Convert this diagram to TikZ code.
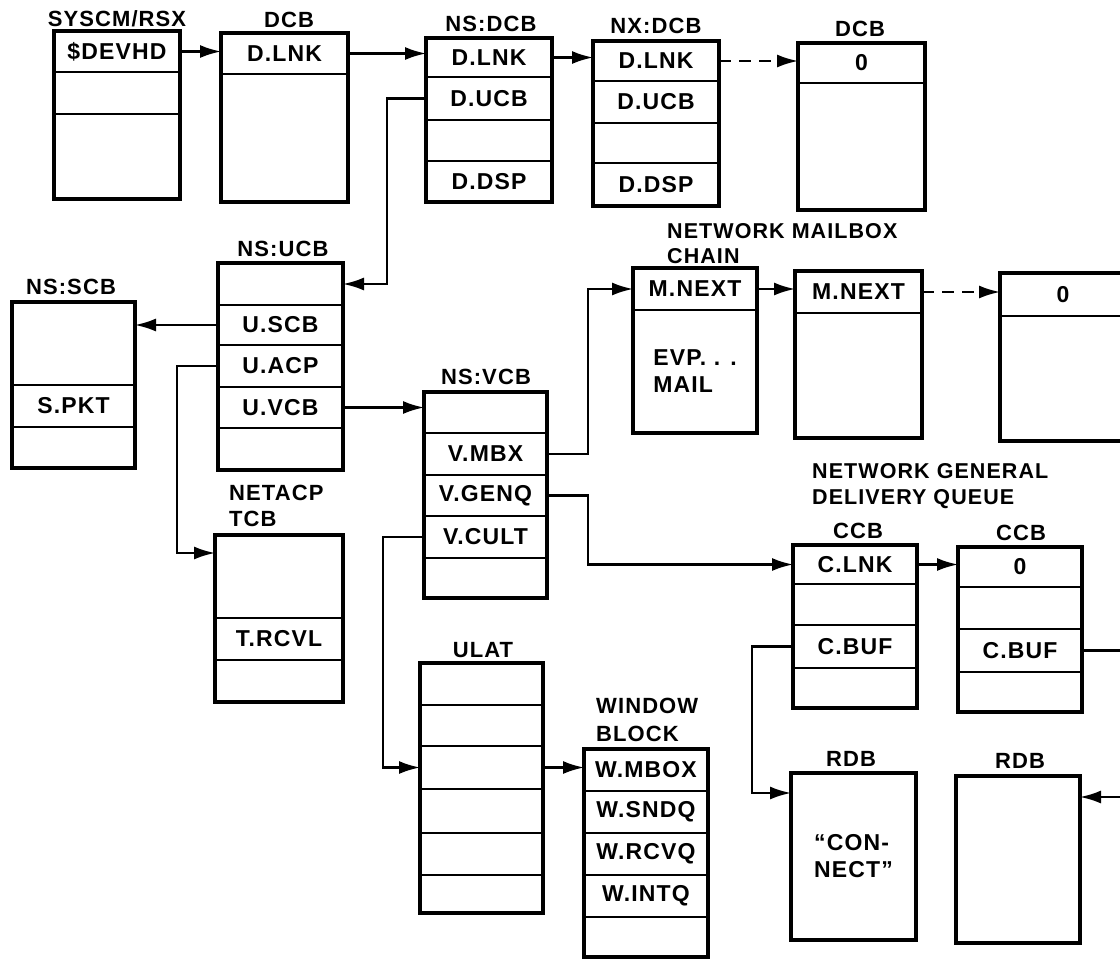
\documentclass[tikz,border=0pt]{standalone}
\usepackage{fontspec}
\setmainfont{Liberation Sans}[LetterSpace=5]
\usetikzlibrary{arrows.meta}
\newcommand\fld[6]{\node[fieldbox,minimum width={#3-#2},minimum height={#5-#4}] (#1) at ({(#2+#3)/2},{(#4+#5)/2}) {#6};}
\newcommand\frm[2]{\draw[frame] (#1.north west) rectangle (#2.south east);}
\tikzset{
  fieldbox/.style={draw, line width=2.5pt, inner sep=0pt, outer sep=0pt, align=left, font=\fontsize{23}{27}\selectfont\bfseries},
  frame/.style={line width=3.5pt, line join=miter},
  conn/.style={line width=2.2pt},
  arr/.style={conn, -{Latex[length=21pt,width=13pt]}},
  darr/.style={arr, dash pattern=on 12pt off 8pt},
  ttl/.style={inner sep=0pt, anchor=base, font=\fontsize{22}{26}\selectfont\bfseries},
  mttl/.style={inner sep=0pt, anchor=north west, align=left},
}
\begin{document}
\begin{tikzpicture}[x=1pt,y=-1pt]
\useasboundingbox (0,0) rectangle (1120,962);
\clip (0,0) rectangle (1120,962);
% SYSCM/RSX
\fld{devhd}{54}{180}{31}{72}{\$DEVHD}
\fld{sys2}{54}{180}{72}{114}{}
\fld{sys3}{54}{180}{114}{199}{}
\frm{devhd}{sys3}
\node[ttl] (lsys) at (117,26) {SYSCM/RSX};
% DCB
\fld{dlnk}{221}{348}{33}{74}{D.LNK}
\fld{dcbb}{221}{348}{74}{202}{}
\frm{dlnk}{dcbb}
\node[ttl] (ldcb) at (289,27) {DCB};
% NS:DCB
\fld{nsdlnk}{426}{552}{38}{77}{D.LNK}
\fld{nsducb}{426}{552}{77}{120}{D.UCB}
\fld{nsd3}{426}{552}{120}{161}{}
\fld{nsddsp}{426}{552}{161}{202}{D.DSP}
\frm{nsdlnk}{nsddsp}
\node[ttl] (lnsdcb) at (491,31) {NS:DCB};
% NX:DCB
\fld{nxdlnk}{593}{719}{41}{81}{D.LNK}
\fld{nxducb}{593}{719}{81}{123}{D.UCB}
\fld{nxd3}{593}{719}{123}{163}{}
\fld{nxddsp}{593}{719}{163}{206}{D.DSP}
\frm{nxdlnk}{nxddsp}
\node[ttl] (lnxdcb) at (656,33) {NX:DCB};
% DCB 0
\fld{dz}{798}{925}{43}{83}{0}
\fld{dzb}{798}{925}{83}{210}{}
\frm{dz}{dzb}
\node[ttl] (ldcbz) at (860,36) {DCB};
% NS:UCB
\fld{ucb1}{218}{343}{263}{305}{}
\fld{uscb}{218}{343}{305}{345}{U.SCB}
\fld{uacp}{218}{343}{345}{387}{U.ACP}
\fld{uvcb}{218}{343}{387}{428}{U.VCB}
\fld{ucb5}{218}{343}{428}{470}{}
\frm{ucb1}{ucb5}
\node[ttl] (lnsucb) at (283,256) {NS:UCB};
% NS:SCB
\fld{scb1}{12}{135}{302}{385}{}
\fld{spkt}{12}{135}{385}{427}{S.PKT}
\fld{scb3}{12}{135}{427}{468}{}
\frm{scb1}{scb3}
\node[ttl] (lnsscb) at (71,294) {NS:SCB};
% NETACP TCB
\fld{tcb1}{215}{343}{535}{618}{}
\fld{trcvl}{215}{343}{618}{660}{T.RCVL}
\fld{tcb3}{215}{343}{660}{702}{}
\frm{tcb1}{tcb3}
\node[mttl, font=\fontsize{22}{26}\selectfont\bfseries] (lnetacp) at (229,485) {NETACP\\TCB};
% NS:VCB
\fld{vcb1}{424}{547}{392}{433}{}
\fld{vmbx}{424}{547}{433}{475}{V.MBX}
\fld{vgenq}{424}{547}{475}{516}{V.GENQ}
\fld{vcult}{424}{547}{516}{558}{V.CULT}
\fld{vcb5}{424}{547}{558}{598}{}
\frm{vcb1}{vcb5}
\node[ttl] (lnsvcb) at (486,384) {NS:VCB};
% Mailbox chain
\fld{mnext1}{633}{757}{268}{310}{M.NEXT}
\fld{mb1b}{633}{757}{310}{433}{EVP. . .\\MAIL}
\frm{mnext1}{mb1b}
\fld{mnext2}{795}{922}{271}{313}{M.NEXT}
\fld{mb2b}{795}{922}{313}{438}{}
\frm{mnext2}{mb2b}
\fld{mz}{1000}{1126}{273}{316}{0}
\fld{mzb}{1000}{1126}{316}{441}{}
\frm{mz}{mzb}
\node[mttl, font=\fontsize{21.5}{25}\selectfont\bfseries] (lmail) at (667,223) {NETWORK MAILBOX\\CHAIN};
% General delivery queue
\node[mttl, font=\fontsize{21.5}{26}\selectfont\bfseries] (lgen) at (812,463) {NETWORK GENERAL\\DELIVERY QUEUE};
\fld{clnk}{793}{917}{545}{584}{C.LNK}
\fld{ccb1b}{793}{917}{584}{625}{}
\fld{cbuf1}{793}{917}{625}{668}{C.BUF}
\fld{ccb1d}{793}{917}{668}{708}{}
\frm{clnk}{ccb1d}
\node[ttl] (lccb1) at (858,538) {CCB};
\fld{cz}{958}{1082}{547}{587}{0}
\fld{ccb2b}{958}{1082}{587}{629}{}
\fld{cbuf2}{958}{1082}{629}{672}{C.BUF}
\fld{ccb2d}{958}{1082}{672}{712}{}
\frm{cz}{ccb2d}
\node[ttl] (lccb2) at (1021,540) {CCB};
% RDBs
\fld{rdb1}{791}{916}{773}{940}{“CON-\\NECT”}
\frm{rdb1}{rdb1}
\node[ttl] (lrdb1) at (851,766) {RDB};
\fld{rdb2}{956}{1080}{776}{943}{}
\frm{rdb2}{rdb2}
\node[ttl] (lrdb2) at (1020,768) {RDB};
% ULAT
\fld{ul1}{420}{543}{663}{705}{}
\fld{ul2}{420}{543}{705}{746}{}
\fld{ul3}{420}{543}{746}{789}{}
\fld{ul4}{420}{543}{789}{833}{}
\fld{ul5}{420}{543}{833}{875}{}
\fld{ul6}{420}{543}{875}{913}{}
\frm{ul1}{ul6}
\node[ttl] (lulat) at (483,657) {ULAT};
% Window block
\fld{wmbox}{584}{708}{749}{791}{W.MBOX}
\fld{wsndq}{584}{708}{791}{833}{W.SNDQ}
\fld{wrcvq}{584}{708}{833}{875}{W.RCVQ}
\fld{wintq}{584}{708}{875}{917}{W.INTQ}
\fld{wb5}{584}{708}{917}{957}{}
\frm{wmbox}{wb5}
\node[mttl, font=\fontsize{22}{28}\selectfont\bfseries] (lwin) at (596,698) {WINDOW\\BLOCK};
% connectors
\coordinate (cbufout) at (1130,651);
\coordinate (rdbsrc) at (1130,797);
\draw[arr] (devhd.east) -- (devhd.east -| dlnk.west);
\draw[arr] (dlnk.east) -- (dlnk.east -| nsdlnk.west);
\draw[arr] (nsdlnk.east) -- (nsdlnk.east -| nxdlnk.west);
\draw[darr] (nxdlnk.east) -- (nxdlnk.east -| dz.west);
\draw[arr] (nsducb.west) -- ++(-39,0) |- (ucb1.east);
\draw[arr] (uscb.west) -- (uscb.west -| scb1.east);
\draw[arr] (uacp.west) -- ++(-41,0) |- ([yshift=23.5pt]tcb1.west);
\draw[arr] (uvcb.east) -- (uvcb.east -| vcb1.west);
\draw[arr] (vmbx.east) -- ++(41,0) |- (mnext1.west);
\draw[arr] (vgenq.east) -- ++(41,0) |- (clnk.west);
\draw[arr] (vcult.west) -- ++(-41,0) |- (ul3.west);
\draw[arr] (ul3.east) -- (ul3.east -| wmbox.west);
\draw[arr] (mnext1.east) -- (mnext1.east -| mnext2.west);
\draw[darr] (mnext2.east) -- (mnext2.east -| mz.west);
\draw[arr] (clnk.east) -- (clnk.east -| cz.west);
\draw[conn] (cbuf2.east) -- (cbuf2.east -| cbufout);
\draw[arr] (cbuf1.west) -- ++(-41,0) |- ([yshift=63.5pt]rdb1.west);
\draw[arr] (rdbsrc) -- (rdbsrc -| rdb2.east);
\end{tikzpicture}
\end{document}
